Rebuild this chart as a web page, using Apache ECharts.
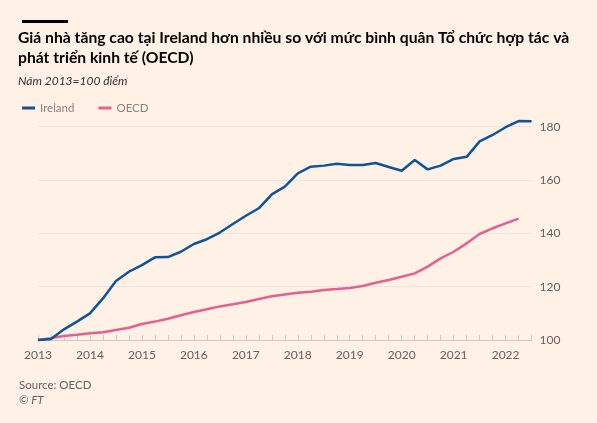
<!DOCTYPE html>
<html>
<head>
<meta charset="utf-8">
<script src="https://cdn.jsdelivr.net/npm/echarts@6/dist/echarts.min.js"></script>
<style>
html,body{margin:0;padding:0;background:#FFF1E5;}
#chart{width:597px;height:423px;}
</style>
</head>
<body>
<div id="chart"></div>
<script>
// Quarterly categories 2013 Q1 .. 2022 Q3
const quarters = [];
for (let y = 2013; y <= 2022; y++) {
  for (let q = 1; q <= 4; q++) {
    if (y === 2022 && q > 3) break;
    quarters.push(y + ' Q' + q);
  }
}
const ireland = [100, 100.4, 104, 106.9, 110, 115.6, 122.1, 125.6, 128.1, 131, 131.1, 133.1, 136, 137.8, 140.3, 143.5, 146.6, 149.4, 154.6, 157.5,
  162.5, 165, 165.4, 166.1, 165.6, 165.6, 166.4, 164.9, 163.5, 167.5, 164, 165.4, 167.9, 168.7, 174.5, 176.9, 179.8, 182.1, 182];
const oecd = [100, 100.7, 101.5, 102, 102.5, 102.9, 103.75, 104.6, 106, 106.9, 108, 109.3, 110.5, 111.5, 112.6, 113.4, 114.25, 115.4, 116.4, 117.1,
  117.75, 118.1, 118.75, 119.1, 119.5, 120.25, 121.5, 122.5, 123.75, 125, 127.5, 130.6, 133.1, 136.25, 139.75, 141.9, 143.75, 145.5, null];
const yTicks = [100, 120, 140, 160, 180];

const chart = echarts.init(document.getElementById('chart'), null, {renderer: 'canvas'});
const gray = '#66605c';
const font = 'Lato';
chart.setOption({
  backgroundColor: '#FFF1E5',
  animation: false,
  textStyle: {fontFamily: font},
  graphic: [
    {type: 'rect', left: 22, top: 20, shape: {width: 46, height: 3}, style: {fill: '#000'}}
  ],
  title: [
    {text: 'Giá nhà tăng cao tại Ireland hơn nhiều so với mức bình quân Tổ chức hợp tác và\nphát triển kinh tế (OECD)',
     left: 18, top: 28, padding: 0,
     textStyle: {fontFamily: font, fontSize: 15.7, fontWeight: 'bold', color: '#000', lineHeight: 20}},
    {text: 'Năm 2013=100 điểm', left: 18, top: 75, padding: 0,
     textStyle: {fontFamily: font, fontSize: 12, fontStyle: 'italic', fontWeight: 'normal', color: '#33302e'}},
    {text: 'Source: OECD', left: 19, top: 379, padding: 0,
     textStyle: {fontFamily: font, fontSize: 11.5, fontWeight: 'normal', color: gray}},
    {text: '© FT', left: 19, top: 394, padding: 0,
     textStyle: {fontFamily: font, fontSize: 11.5, fontStyle: 'italic', fontWeight: 'normal', color: gray}}
  ],
  legend: {
    left: 22, top: 102, padding: 0,
    icon: 'rect', itemWidth: 13, itemHeight: 3, itemGap: 24,
    textStyle: {fontFamily: font, fontSize: 11.5, color: '#8a837e'},
    data: ['Ireland', 'OECD']
  },
  grid: {left: 38, right: 65.4, top: 126.7, bottom: 83, containLabel: false},
  xAxis: {
    type: 'category', boundaryGap: false, data: quarters,
    axisLine: {lineStyle: {color: '#d3c8be', width: 1}},
    axisTick: {show: true, inside: true, length: 5, interval: 0, lineStyle: {color: '#d3c8be'}},
    axisLabel: {interval: 3, color: gray, fontSize: 12, margin: 9, fontFamily: font,
      formatter: v => v.split(' ')[0]},
    splitLine: {show: false}
  },
  yAxis: {
    type: 'value', position: 'right', min: yTicks[0], max: yTicks[yTicks.length - 1], interval: 20,
    axisLine: {show: false}, axisTick: {show: false},
    axisLabel: {color: gray, fontSize: 12, margin: 8, fontFamily: font},
    splitLine: {lineStyle: {color: '#efe3d7', width: 1}}
  },
  series: [
    {name: 'Ireland', type: 'line', data: ireland, symbol: 'none', clip: false,
     lineStyle: {color: '#0f5499', width: 2.5}, itemStyle: {color: '#0f5499'}, z: 3},
    {name: 'OECD', type: 'line', data: oecd, symbol: 'none', clip: false,
     lineStyle: {color: '#e5608f', width: 2.5}, itemStyle: {color: '#e5608f'}, z: 2}
  ]
});
</script>
</body>
</html>
